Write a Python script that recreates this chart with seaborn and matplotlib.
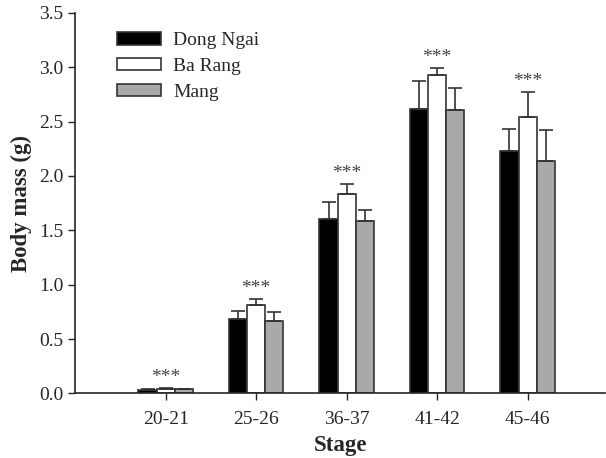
import numpy as np
import pandas as pd
import matplotlib
matplotlib.use("Agg")
import matplotlib.pyplot as plt
import seaborn as sns

# data
stages = ["20-21", "25-26", "36-37", "41-42", "45-46"]
populations = ["Dong Ngai", "Ba Rang", "Mang"]
dong_ngai = [0.035, 0.68, 1.60, 2.62, 2.23]
ba_rang = [0.045, 0.815, 1.83, 2.93, 2.545]
mang = [0.04, 0.668, 1.587, 2.61, 2.14]
dong_ngai_err = [0.005, 0.075, 0.16, 0.256, 0.20]
ba_rang_err = [0.005, 0.05, 0.095, 0.065, 0.225]
mang_err = [0.005, 0.082, 0.10, 0.20, 0.28]
signif = ["***", "***", "***", "***", "***"]

rows = []
for name, vals, errs in [("Dong Ngai", dong_ngai, dong_ngai_err),
                         ("Ba Rang", ba_rang, ba_rang_err),
                         ("Mang", mang, mang_err)]:
    for s, v, e in zip(stages, vals, errs):
        rows.append({"stage": s, "pop": name, "mass": v, "err": e})
df = pd.DataFrame(rows)

sns.set_style("ticks")
plt.rcParams['font.family'] = ['Liberation Serif', 'DejaVu Serif']

fig = plt.figure(figsize=(6.06, 4.58), dpi=100)
ax = fig.add_axes([0.124, 0.141, 0.875, 0.831])

colors = {"Dong Ngai": "#000000", "Ba Rang": "#ffffff", "Mang": "#a9a9a9"}
sns.barplot(data=df, x="stage", y="mass", hue="pop", order=stages,
            hue_order=populations, palette=colors, width=0.6,
            errorbar=None, edgecolor="#333333", linewidth=1.2, ax=ax)

# one-sided error bars on top of each bar
for cont, name in zip(ax.containers, populations):
    sub = df[df["pop"] == name].set_index("stage").loc[stages]
    xs = [p.get_x() + p.get_width() / 2 for p in cont.patches]
    ax.errorbar(xs, sub["mass"].values,
                yerr=[np.zeros(len(xs)), sub["err"].values],
                fmt="none", ecolor="#333333", elinewidth=1.2,
                capsize=5, capthick=1.2, zorder=1)

# significance stars above the middle bar
for i, s in enumerate(stages):
    top = ba_rang[i] + ba_rang_err[i]
    ax.text(i, top + 0.02, signif[i], ha="center", va="bottom",
            fontsize=14, color="#444444")

ax.set_xlim(-1.0, 4.86)
ax.set_ylim(0, 3.5)
ax.set_yticks(np.arange(0, 3.51, 0.5))
ax.set_yticklabels([f"{v:.1f}" for v in np.arange(0, 3.51, 0.5)])
ax.set_xlabel("Stage", fontsize=16.5, fontweight="bold", labelpad=5)
ax.set_ylabel("Body mass (g)", fontsize=16.5, fontweight="bold", labelpad=5)
ax.tick_params(axis="both", labelsize=14, direction="out", length=5, width=1)
ax.tick_params(axis="x", pad=8)
for sp in ["left", "bottom"]:
    ax.spines[sp].set_linewidth(1.2)
sns.despine(ax=ax)

leg = ax.legend(loc="upper left", bbox_to_anchor=(0.045, 0.995), frameon=False,
                fontsize=14, handlelength=2.3, handleheight=0.6,
                labelspacing=0.45, handletextpad=0.6)
for h in leg.legend_handles:
    h.set_edgecolor("#333333")

fig.savefig("out.png", dpi=100)
